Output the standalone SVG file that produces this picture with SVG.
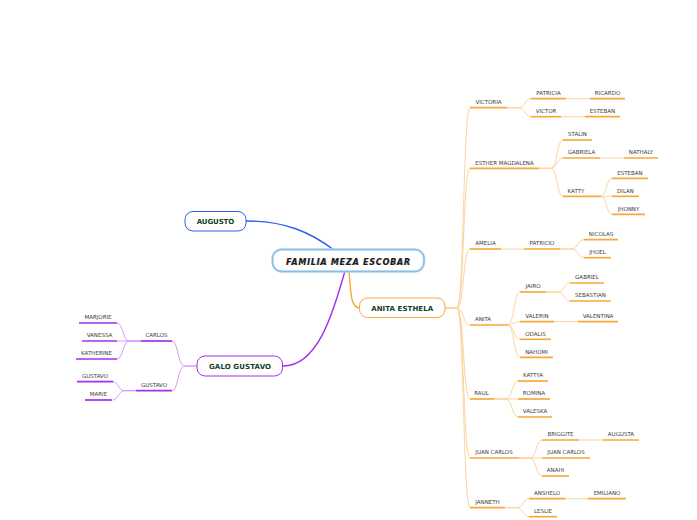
<svg xmlns="http://www.w3.org/2000/svg" width="697" height="520" viewBox="0 0 697 520">
<style>
.t{font-family:"DejaVu Sans",Verdana,sans-serif;font-size:5.5px;fill:#3a3a3a;text-anchor:middle}
.n{font-family:"DejaVu Sans",Verdana,sans-serif;font-size:7px;font-weight:bold;fill:#0f3d2b;text-anchor:middle}
.c{font-family:"DejaVu Sans",Verdana,sans-serif;font-size:8px;font-weight:bold;font-style:italic;text-anchor:middle}
.uo{stroke:#f9a83a;stroke-width:1.7;fill:none}
.up{stroke:#a52ef0;stroke-width:1.7;fill:none}
.co{stroke:#fcd49c;stroke-width:1;fill:none}
.cp{stroke:#d49cf7;stroke-width:1;fill:none}
</style>
<rect width="697" height="520" fill="#ffffff"/>
<g id="connectors">
<path d="M246 221 C285 221 310 232 334 250" stroke="#2f5df2" stroke-width="1.4" fill="none"/>
<path d="M345 271 C335 305 320 366 283 366" stroke="#a02ff0" stroke-width="1.4" fill="none"/>
<path d="M349 271 C351 296 351 308 360 308" stroke="#f9a83a" stroke-width="1.4" fill="none"/>
<path class="co" d="M445 308 H457 C464 308 463 107.7 470 107.7"/>
<path class="co" d="M445 308 H457 C464 308 463 168.3 470 168.3"/>
<path class="co" d="M445 308 H457 C464 308 463 249 470 249"/>
<path class="co" d="M445 308 H457 C464 308 463 325 470 325"/>
<path class="co" d="M445 308 H457 C464 308 463 399 470 399"/>
<path class="co" d="M445 308 H457 C464 308 463 458 470 458"/>
<path class="co" d="M445 308 H457 C464 308 463 507.7 470 507.7"/>
<path class="co" d="M507 107.7 H519 C525 107.7 525 98.7 531 98.7"/>
<path class="co" d="M507 107.7 H519 C525 107.7 525 116.7 531 116.7"/>
<path class="co" d="M566 98.7 H590"/>
<path class="co" d="M561 116.7 H585"/>
<path class="co" d="M539 168.3 H551 C557 168.3 557 140 563 140"/>
<path class="co" d="M539 168.3 H551 C557 168.3 557 158 563 158"/>
<path class="co" d="M539 168.3 H551 C557 168.3 557 196.3 563 196.3"/>
<path class="co" d="M600 158 H624"/>
<path class="co" d="M601 196.3 C606.5 196.3 606.5 178.3 612 178.3"/>
<path class="co" d="M601 196.3 H612"/>
<path class="co" d="M601 196.3 C606.5 196.3 606.5 214.3 612 214.3"/>
<path class="co" d="M501 249 H524"/>
<path class="co" d="M560 249 H572 C578 249 578 239.7 584 239.7"/>
<path class="co" d="M560 249 H572 C578 249 578 257.7 584 257.7"/>
<path class="co" d="M508 325 C514 325 514 292 520 292"/>
<path class="co" d="M508 325 C514 325 514 321.7 520 321.7"/>
<path class="co" d="M508 325 C514 325 514 339.3 520 339.3"/>
<path class="co" d="M508 325 C514 325 514 357.3 520 357.3"/>
<path class="co" d="M546 292 H558 C564 292 564 283 570 283"/>
<path class="co" d="M546 292 H558 C564 292 564 301 570 301"/>
<path class="co" d="M554 321.7 H578"/>
<path class="co" d="M494 399 H506 C512 399 512 381 518 381"/>
<path class="co" d="M494 399 H518"/>
<path class="co" d="M494 399 H506 C512 399 512 417 518 417"/>
<path class="co" d="M519 458 H530.5 C536 458 536 440 542 440"/>
<path class="co" d="M519 458 H542"/>
<path class="co" d="M519 458 H530.5 C536 458 536 476 542 476"/>
<path class="co" d="M579 440 H603"/>
<path class="co" d="M505 507.7 H517 C523 507.7 523 498.7 529 498.7"/>
<path class="co" d="M505 507.7 H517 C523 507.7 523 516.7 529 516.7"/>
<path class="co" d="M565 498.7 H588"/>
<path class="cp" d="M197 366 H184.5 C178 366 178 341 172 341"/>
<path class="cp" d="M197 366 H184.5 C178 366 178 390.7 172 390.7"/>
<path class="cp" d="M141 341 H129 C123 341 123 323 117 323"/>
<path class="cp" d="M141 341 H117"/>
<path class="cp" d="M141 341 H129 C123 341 123 359 117 359"/>
<path class="cp" d="M136 390.7 H124.5 C118.5 390.7 118.5 381.7 112.5 381.7"/>
<path class="cp" d="M136 390.7 H124.5 C118.5 390.7 118.5 400 112.5 400"/>
</g>
<g id="central">
<rect x="272.5" y="249.5" width="151.5" height="22" rx="9" fill="#ffffff" stroke="#a9d2ef" stroke-width="2.4"/>
<rect x="272.5" y="249.5" width="151.5" height="22" rx="9" fill="none" stroke="#7fb8e3" stroke-width="0.8"/>
<text class="c" x="348.6" y="265.1" fill="#9a9a9a" textLength="124" lengthAdjust="spacing">FAMILIA MEZA ESCOBAR</text>
<text class="c" x="348" y="264.5" fill="#1e1e1e" textLength="124" lengthAdjust="spacing">FAMILIA MEZA ESCOBAR</text>
</g>
<g id="augusto">
<rect x="185" y="211.5" width="61" height="19.5" rx="8" fill="#fff" stroke="#2f5df2" stroke-width="1"/>
<text class="n" x="215.5" y="223.8" textLength="37.5" lengthAdjust="spacing">AUGUSTO</text>
</g>
<g id="anita-esthela">
<rect x="359.5" y="298" width="85.5" height="19.5" rx="8" fill="#fff" stroke="#f9a83a" stroke-width="1"/>
<text class="n" x="402.2" y="310.8" textLength="62" lengthAdjust="spacing">ANITA ESTHELA</text>
</g>
<g id="galo-gustavo">
<rect x="197" y="356" width="85.5" height="20" rx="8" fill="#fff" stroke="#a02ff0" stroke-width="1"/>
<text class="n" x="240" y="368.8" textLength="62" lengthAdjust="spacing">GALO GUSTAVO</text>
</g>
<g id="victoria"><path class="uo" d="M470 107.7 H507"/><text class="t" x="488.5" y="104">VICTORIA</text></g>
<g id="patricia"><path class="uo" d="M531 98.7 H566"/><text class="t" x="548.5" y="95">PATRICIA</text></g>
<g id="ricardo"><path class="uo" d="M590 98.7 H625"/><text class="t" x="607.5" y="95">RICARDO</text></g>
<g id="victor"><path class="uo" d="M531 116.7 H561"/><text class="t" x="546" y="113">VICTOR</text></g>
<g id="esteban1"><path class="uo" d="M585 116.7 H620"/><text class="t" x="602.5" y="113">ESTEBAN</text></g>
<g id="esther"><path class="uo" d="M470 168.3 H539"/><text class="t" x="504.5" y="164.6">ESTHER MAGDALENA</text></g>
<g id="stalin"><path class="uo" d="M563 140 H592"/><text class="t" x="577.5" y="136.3">STALIN</text></g>
<g id="gabriela"><path class="uo" d="M563 158 H600"/><text class="t" x="581.5" y="154.3">GABRIELA</text></g>
<g id="nathaly"><path class="uo" d="M624 158 H658"/><text class="t" x="641" y="154.3">NATHALY</text></g>
<g id="katty"><path class="uo" d="M563 196.3 H601"/><text class="t" x="576" y="192.6">KATTY</text></g>
<g id="esteban2"><path class="uo" d="M612 178.3 H648"/><text class="t" x="630" y="174.6">ESTEBAN</text></g>
<g id="dilan"><path class="uo" d="M612 196.3 H639"/><text class="t" x="625.5" y="192.6">DILAN</text></g>
<g id="jhonny"><path class="uo" d="M612 214.3 H645"/><text class="t" x="628.5" y="210.6">JHONNY</text></g>
<g id="amelia"><path class="uo" d="M470 249 H501"/><text class="t" x="485.5" y="245.3">AMELIA</text></g>
<g id="patricio"><path class="uo" d="M524 249 H560"/><text class="t" x="542" y="245.3">PATRICIO</text></g>
<g id="nicolas"><path class="uo" d="M584 239.7 H618"/><text class="t" x="601" y="236">NICOLAS</text></g>
<g id="jhoel"><path class="uo" d="M584 257.7 H611"/><text class="t" x="597.5" y="254">JHOEL</text></g>
<g id="anita"><path class="uo" d="M470 325 H508"/><text class="t" x="483" y="321.3">ANITA</text></g>
<g id="jairo"><path class="uo" d="M520 292 H546"/><text class="t" x="533" y="288.3">JAIRO</text></g>
<g id="gabriel"><path class="uo" d="M570 283 H604"/><text class="t" x="587" y="279.3">GABRIEL</text></g>
<g id="sebastian"><path class="uo" d="M570 301 H611"/><text class="t" x="590.5" y="297.3">SEBASTIAN</text></g>
<g id="valerin"><path class="uo" d="M520 321.7 H554"/><text class="t" x="537" y="318">VALERIN</text></g>
<g id="valentina"><path class="uo" d="M578 321.7 H618"/><text class="t" x="598" y="318">VALENTINA</text></g>
<g id="odalis"><path class="uo" d="M520 339.3 H551"/><text class="t" x="535.5" y="335.6">ODALIS</text></g>
<g id="nahomi"><path class="uo" d="M520 357.3 H553"/><text class="t" x="536.5" y="353.6">NAHOMI</text></g>
<g id="raul"><path class="uo" d="M470 399 H494"/><text class="t" x="481.5" y="395.3">RAUL</text></g>
<g id="kattya"><path class="uo" d="M518 381 H548"/><text class="t" x="533" y="377.3">KATTYA</text></g>
<g id="romina"><path class="uo" d="M518 399 H550"/><text class="t" x="534" y="395.3">ROMINA</text></g>
<g id="valeska"><path class="uo" d="M518 417 H552"/><text class="t" x="535" y="413.3">VALESKA</text></g>
<g id="juan-carlos"><path class="uo" d="M470 458 H519"/><text class="t" x="494" y="454.3">JUAN CARLOS</text></g>
<g id="briggite"><path class="uo" d="M542 440 H579"/><text class="t" x="560.5" y="436.3">BRIGGITE</text></g>
<g id="augusta"><path class="uo" d="M603 440 H639"/><text class="t" x="621" y="436.3">AUGUSTA</text></g>
<g id="juan-carlos2"><path class="uo" d="M542 458 H590"/><text class="t" x="566" y="454.3">JUAN CARLOS</text></g>
<g id="anahi"><path class="uo" d="M542 476 H569"/><text class="t" x="555.5" y="472.3">ANAHI</text></g>
<g id="janneth"><path class="uo" d="M470 507.7 H505"/><text class="t" x="487.5" y="504">JANNETH</text></g>
<g id="anshelo"><path class="uo" d="M529 498.7 H565"/><text class="t" x="547" y="495">ANSHELO</text></g>
<g id="emiliano"><path class="uo" d="M588 498.7 H626"/><text class="t" x="607" y="495">EMILIANO</text></g>
<g id="leslie"><path class="uo" d="M529 516.7 H557"/><text class="t" x="543" y="513">LESLIE</text></g>
<g id="carlos"><path class="up" d="M141 341 H172"/><text class="t" x="156.5" y="337.3">CARLOS</text></g>
<g id="marjorie"><path class="up" d="M79 323 H117"/><text class="t" x="98" y="319.3">MARJORIE</text></g>
<g id="vanessa"><path class="up" d="M82 341 H117"/><text class="t" x="99.5" y="337.3">VANESSA</text></g>
<g id="katherine"><path class="up" d="M76 359 H117"/><text class="t" x="96.5" y="355.3">KATHERINE</text></g>
<g id="gustavo"><path class="up" d="M136 390.7 H172"/><text class="t" x="154" y="387">GUSTAVO</text></g>
<g id="gustavo2"><path class="up" d="M77 381.7 H113"/><text class="t" x="95" y="378">GUSTAVO</text></g>
<g id="marie"><path class="up" d="M85 400 H112"/><text class="t" x="98.5" y="396.3">MARIE</text></g>
</svg>
